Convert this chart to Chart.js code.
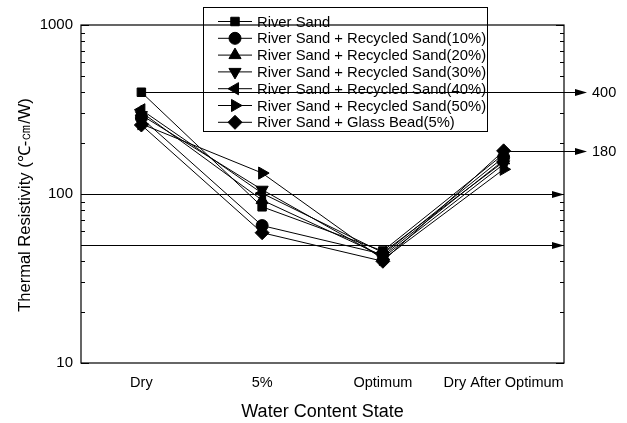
<!DOCTYPE html>
<html>
<head>
<meta charset="utf-8">
<script src="https://cdn.jsdelivr.net/npm/chart.js@4.4.1/dist/chart.umd.min.js"></script>
<style>
  html, body { margin: 0; padding: 0; background: #fff; }
  #wrap { width: 627px; height: 423px; }
</style>
</head>
<body>
<div id="wrap"><canvas id="grafico" width="627" height="423"></canvas></div>
<script>
// categorias e valores (℃-cm/W)
const estados = ['Dry', '5%', 'Optimum', 'Dry After Optimum'];
const riverSand = [400, 84, 46, 172];
const recycled10 = [282, 65, 44, 165];
const recycled20 = [305, 92, 43, 158];
const recycled30 = [293, 106, 42, 150];
const recycled40 = [315, 101, 45, 155];
const recycled50 = [260, 133, 41, 140];
const glassBead5 = [256, 59, 40, 180];
const yTicks = [10, 100, 1000];

// linhas de referência horizontais
const refLinhas = [
  { valor: 400, inicio: 0, rotulo: '400', fora: true },
  { valor: 180, inicio: 3, rotulo: '180', fora: true },
  { valor: 100, inicio: null, rotulo: '', fora: false },
  { valor: 50, inicio: null, rotulo: '', fora: false }
];

const series = [
  { label: 'River Sand', data: riverSand, pointStyle: 'rect', rotation: 0, radius: 6 },
  { label: 'River Sand + Recycled Sand(10%)', data: recycled10, pointStyle: 'circle', rotation: 0, radius: 6 },
  { label: 'River Sand + Recycled Sand(20%)', data: recycled20, pointStyle: 'triangle', rotation: 0, radius: 7 },
  { label: 'River Sand + Recycled Sand(30%)', data: recycled30, pointStyle: 'triangle', rotation: 180, radius: 7 },
  { label: 'River Sand + Recycled Sand(40%)', data: recycled40, pointStyle: 'triangle', rotation: 270, radius: 7 },
  { label: 'River Sand + Recycled Sand(50%)', data: recycled50, pointStyle: 'triangle', rotation: 90, radius: 7 },
  { label: 'River Sand + Glass Bead(5%)', data: glassBead5, pointStyle: 'rectRot', rotation: 0, radius: 7 }
];

const FONTE = '"Liberation Sans", Arial, sans-serif';

function seta(ctx, x, y) {
  ctx.beginPath();
  ctx.moveTo(x, y);
  ctx.lineTo(x - 12, y - 3.5);
  ctx.lineTo(x - 12, y + 3.5);
  ctx.closePath();
  ctx.fill();
}

// moldura, marcas menores, linhas de referência, título do eixo y e legenda
const extrasPlugin = {
  id: 'extras',
  afterDraw(chart) {
    const { ctx, chartArea: a, scales } = chart;
    const y = scales.y, x = scales.x;
    ctx.save();
    ctx.strokeStyle = '#000';
    ctx.fillStyle = '#000';
    ctx.lineWidth = 1.2;
    ctx.strokeRect(a.left, a.top, a.right - a.left, a.bottom - a.top);

    // marcas do eixo log
    ctx.lineWidth = 1;
    for (let d = 10; d <= 1000; d *= 10) {
      for (let m = 1; m < 10; m++) {
        const v = d * m;
        if (v > 1000) break;
        const py = Math.round(y.getPixelForValue(v)) + 0.5;
        const len = m === 1 ? 8 : 4;
        ctx.beginPath();
        ctx.moveTo(a.left, py); ctx.lineTo(a.left + len, py);
        ctx.moveTo(a.right, py); ctx.lineTo(a.right - len, py);
        ctx.stroke();
      }
    }

    refLinhas.forEach(r => {
      const py = Math.round(y.getPixelForValue(r.valor)) + 0.5;
      const x0 = r.inicio === null ? a.left : x.getPixelForValue(r.inicio);
      const x1 = r.fora ? 587 : a.right;
      ctx.beginPath();
      ctx.moveTo(x0, py); ctx.lineTo(x1 - 6, py);
      ctx.stroke();
      seta(ctx, x1, py);
      if (r.rotulo) {
        ctx.font = '14.5px ' + FONTE;
        ctx.textAlign = 'left';
        ctx.textBaseline = 'middle';
        ctx.fillText(r.rotulo, 592, py);
      }
    });

    // título do eixo y
    ctx.save();
    ctx.translate(25, 205);
    ctx.rotate(-Math.PI / 2);
    ctx.textAlign = 'center';
    ctx.textBaseline = 'middle';
    ctx.font = '16.5px ' + FONTE;
    ctx.fillText('Thermal Resistivity (℃-㎝/W)', 0, 0);
    ctx.restore();

    // legenda
    const lx = 203, ly = 7, lw = 284, lh = 124;
    ctx.lineWidth = 1;
    ctx.strokeRect(lx + 0.5, ly + 0.5, lw, lh);
    ctx.font = '14.8px ' + FONTE;
    ctx.textAlign = 'left';
    ctx.textBaseline = 'middle';
    series.forEach((s, i) => {
      const cy = 21.5 + i * 16.8;
      ctx.beginPath();
      ctx.moveTo(218, cy); ctx.lineTo(252, cy);
      ctx.stroke();
      Chart.helpers.drawPoint(ctx, {
        pointStyle: s.pointStyle, rotation: s.rotation, radius: s.radius, borderWidth: 1
      }, 235, cy);
      ctx.fillText(s.label, 257, cy + 1);
    });
    ctx.restore();
  }
};

const ctx = document.getElementById('grafico').getContext('2d');
new Chart(ctx, {
  type: 'line',
  data: {
    labels: estados,
    datasets: series.map(s => ({
      label: s.label,
      data: s.data,
      borderColor: '#000',
      borderWidth: 1,
      backgroundColor: '#000',
      pointStyle: s.pointStyle,
      rotation: s.rotation,
      pointRadius: s.radius,
      pointBorderWidth: 1,
      tension: 0
    }))
  },
  options: {
    responsive: false,
    animation: false,
    layout: { padding: { left: 0, right: 63, top: 25, bottom: 0 } },
    plugins: { legend: { display: false }, tooltip: { enabled: false } },
    scales: {
      x: {
        type: 'category',
        offset: true,
        grid: { display: false, drawTicks: false },
        border: { display: false },
        ticks: {
          color: '#000', font: { family: FONTE, size: 14.5 }, padding: 11,
          maxRotation: 0, minRotation: 0, autoSkip: false
        },
        title: {
          display: true, text: 'Water Content State', color: '#000',
          font: { family: FONTE, size: 18 }, padding: { top: 11, bottom: 0 }
        },
        afterFit(scale) { scale.height = 60; }
      },
      y: {
        type: 'logarithmic',
        min: 10, max: 1000,
        grid: { display: false, drawTicks: false },
        border: { display: false },
        afterBuildTicks(scale) { scale.ticks = yTicks.map(v => ({ value: v })); },
        ticks: {
          color: '#000', font: { family: FONTE, size: 15 }, padding: 8,
          callback: v => String(v)
        },
        afterFit(scale) { scale.width = 81; }
      }
    }
  },
  plugins: [extrasPlugin]
});
</script>
</body>
</html>
